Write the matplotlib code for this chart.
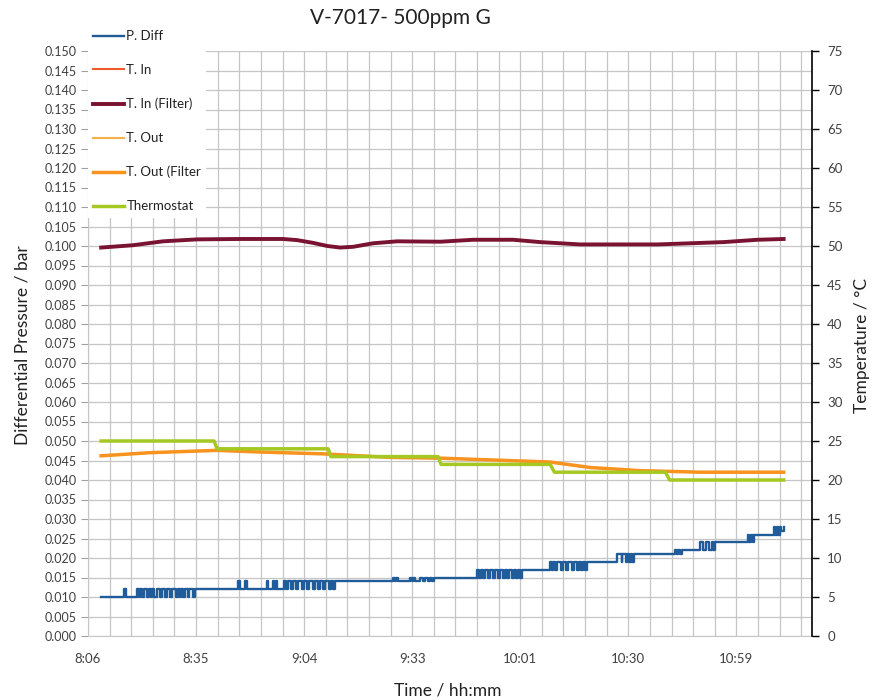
import matplotlib
matplotlib.use("Agg")
import matplotlib.pyplot as plt
import numpy as np

plt.rcParams['font.family'] = ['Lato', 'DejaVu Sans']

# ---- labels -------------------------------------------------------------
title = "V-7017- 500ppm G"
x_label = "Time / hh:mm"
y_left_label = "Differential Pressure / bar"
y_right_label = "Temperature / \u00b0C"
x_tick_labels = ["8:06", "8:35", "9:04", "9:33", "10:01", "10:30", "10:59"]
series_names = ["P. Diff", "T. In", "T. In (Filter)", "T. Out", "T. Out (Filter", "Thermostat"]

# ---- data (time in minutes after 8:00) ---------------------------------
# differential pressure, logged as step changes (bar)
pd_time = [9.7,
           15.8, 16.2, 19.3, 19.7, 20.1, 20.5, 21.1, 21.9, 22.5, 22.9, 23.3, 23.8,
           24.6, 25.4, 25.9, 26.7, 27.3, 28.1, 28.6, 29.7, 30.2, 30.7, 31.0, 31.5,
           32.1, 32.9, 33.1, 34.2, 34.6,
           46.2, 46.6, 48.1, 48.5,
           53.9, 54.3, 55.5, 55.9, 56.3, 56.7, 58.5, 59.0, 59.5, 60.3, 60.9, 61.7,
           62.2, 63.3, 63.8, 64.6, 65.1, 66.2, 66.7, 67.5, 68.1, 68.9, 69.4, 70.5,
           71.0, 71.5, 71.9,
           87.5, 87.9, 88.3, 88.7, 92.1, 92.5, 92.9, 93.3, 94.7, 95.5, 96.1, 96.9,
           97.4, 98.0, 98.5,
           110.0, 110.4, 111.0, 111.4, 112.1, 112.9, 113.4, 114.2, 114.8, 115.6,
           116.1, 116.9, 117.4, 117.9, 118.5, 119.3, 119.8, 120.3, 120.9, 121.4, 121.8,
           129.4, 129.8, 130.2, 130.7, 131.3, 132.3, 132.9, 133.7, 134.2, 135.3,
           135.8, 136.6, 137.1, 137.7, 138.2, 138.7, 139.1,
           147.3, 148.4, 148.6, 149.7, 149.9, 150.5, 150.8, 151.3, 151.7,
           162.7, 163.3, 163.5, 164.1, 164.5,
           169.4, 170.0, 171.0, 171.6, 172.4, 172.9, 173.3,
           182.0, 182.5, 183.0, 183.4, 183.7,
           188.9, 189.4, 189.7, 190.2, 190.5, 191.0, 191.6]
pd_value = [0.010,
            0.012, 0.010, 0.012, 0.010, 0.012, 0.010, 0.012, 0.010, 0.012, 0.010, 0.012, 0.010,
            0.012, 0.010, 0.012, 0.010, 0.012, 0.010, 0.012, 0.010, 0.012, 0.010, 0.012, 0.010,
            0.012, 0.010, 0.012, 0.010, 0.012,
            0.014, 0.012, 0.014, 0.012,
            0.014, 0.012, 0.014, 0.012, 0.014, 0.012, 0.014, 0.012, 0.014, 0.012, 0.014, 0.012,
            0.014, 0.012, 0.014, 0.012, 0.014, 0.012, 0.014, 0.012, 0.014, 0.012, 0.014, 0.012,
            0.014, 0.012, 0.014,
            0.015, 0.014, 0.015, 0.014, 0.015, 0.014, 0.015, 0.014, 0.015, 0.014, 0.015, 0.014,
            0.015, 0.014, 0.015,
            0.017, 0.015, 0.017, 0.015, 0.017, 0.015, 0.017, 0.015, 0.017, 0.015,
            0.017, 0.015, 0.017, 0.015, 0.017, 0.015, 0.017, 0.015, 0.017, 0.015, 0.017,
            0.019, 0.017, 0.019, 0.017, 0.019, 0.017, 0.019, 0.017, 0.019, 0.017,
            0.019, 0.017, 0.019, 0.017, 0.019, 0.017, 0.019,
            0.021, 0.019, 0.021, 0.019, 0.021, 0.019, 0.021, 0.019, 0.021,
            0.022, 0.021, 0.022, 0.021, 0.022,
            0.024, 0.022, 0.024, 0.022, 0.024, 0.022, 0.024,
            0.026, 0.024, 0.026, 0.024, 0.026,
            0.028, 0.026, 0.028, 0.026, 0.028, 0.027, 0.028]

# inlet temperature (degC)
t_in_time = [9.7, 18.2, 26.2, 35.3, 46.7, 58.2, 62.0, 66.2, 70.0, 73.4, 76.9, 82.2,
             88.6, 100.1, 108.9, 119.5, 126.7, 137.4, 157.9, 166.8, 175.6, 184.6, 191.6]
t_in_raw = [49.8, 50.1, 50.6, 50.85, 50.9, 50.9, 50.75, 50.4, 50.0, 49.8, 49.9, 50.35,
            50.6, 50.55, 50.8, 50.8, 50.5, 50.2, 50.2, 50.35, 50.5, 50.8, 50.9]
t_in_filter = [49.8, 50.1, 50.6, 50.85, 50.9, 50.9, 50.75, 50.4, 50.0, 49.8, 49.9, 50.35,
               50.6, 50.55, 50.8, 50.8, 50.5, 50.2, 50.2, 50.35, 50.5, 50.8, 50.9]

# outlet temperature (degC)
t_out_time = [9.7, 22.7, 40.6, 51.3, 68.9, 86.7, 100.1, 117.9, 129.4, 140.1, 153.4,
              169.4, 191.6]
t_out_raw = [23.1, 23.5, 23.8, 23.6, 23.35, 22.9, 22.8, 22.5, 22.3, 21.6, 21.2, 21.0, 21.0]
t_out_filter = [23.1, 23.5, 23.8, 23.6, 23.35, 22.9, 22.8, 22.5, 22.3, 21.6, 21.2, 21.0, 21.0]

# thermostat set point (degC)
thermo_time = [9.7, 39.8, 40.6, 70.2, 70.9, 99.5, 100.3, 129.4, 130.5, 160.1, 161.2, 191.6]
thermo_value = [25, 25, 24, 24, 23, 23, 22, 22, 21, 21, 20, 20]

# ---- figure -------------------------------------------------------------
fig = plt.figure(figsize=(8.8, 7.0), dpi=100)
ax = fig.add_axes([88 / 880, 1 - 636 / 700, (812 - 88) / 880, (636 - 51) / 700])
ax2 = ax.twinx()

colors = {
    "pdiff": "#1F5C99",
    "t_in": "#F05A28",
    "t_in_f": "#7A1331",
    "t_out": "#F4B04A",
    "t_out_f": "#F7931E",
    "thermo": "#A5C823",
}

x_start = 6.2          # 8:06
major = 28.8           # minutes per major unit
x_end = x_start + 6.7 * major

h_pd, = ax.plot(pd_time, pd_value, drawstyle="steps-post", color=colors["pdiff"], lw=1.7,
                label=series_names[0])
h_ti, = ax2.plot(t_in_time, t_in_raw, color=colors["t_in"], lw=1.5, label=series_names[1])
h_tif, = ax2.plot(t_in_time, t_in_filter, color=colors["t_in_f"], lw=2.8, label=series_names[2])
h_to, = ax2.plot(t_out_time, t_out_raw, color=colors["t_out"], lw=1.5, label=series_names[3])
h_tof, = ax2.plot(t_out_time, t_out_filter, color=colors["t_out_f"], lw=2.5, label=series_names[4])
h_th, = ax2.plot(thermo_time, thermo_value, color=colors["thermo"], lw=2.5, label=series_names[5])

# axes ranges and ticks
ax.set_xlim(x_start, x_end)
ax.set_ylim(0, 0.150)
ax2.set_ylim(0, 75)

major_pos = [x_start + i * major for i in range(len(x_tick_labels))]
minor_pos = np.arange(x_start, x_end + 0.01, major / 5)
ax.set_xticks(major_pos)
ax.set_xticklabels(x_tick_labels, fontsize=9.5)
ax.set_xticks(minor_pos, minor=True)

left_ticks = np.arange(0, 0.1501, 0.005)
ax.set_yticks(left_ticks)
ax.set_yticklabels([f"{v:.3f}" for v in left_ticks], fontsize=9)
ax2.set_yticks(np.arange(0, 76, 5))
ax2.set_yticklabels([str(v) for v in range(0, 76, 5)], fontsize=9.5)

grid_c = "#C6C6C6"
ax.grid(True, which="both", axis="x", color=grid_c, lw=0.9)
ax.grid(True, which="major", axis="y", color=grid_c, lw=0.9)
ax.set_axisbelow(True)

ax.tick_params(axis="x", which="both", length=0, pad=12, colors="#404040")
ax.tick_params(axis="y", length=5, color="#A0A0A0", labelcolor="#404040", pad=3)
ax2.tick_params(axis="y", length=5, width=1.0, color="black", labelcolor="#404040", pad=6)

for s in ["top"]:
    ax.spines[s].set_visible(False)
    ax2.spines[s].set_visible(False)
ax.spines["left"].set_color(grid_c)
ax.spines["bottom"].set_color(grid_c)
ax.spines["right"].set_visible(False)
ax2.spines["left"].set_visible(False)
ax2.spines["bottom"].set_visible(False)
ax2.spines["right"].set_color("black")
ax2.spines["right"].set_linewidth(1.2)

# titles
fig.text(400 / 880, 1 - 18 / 700, title, ha="center", va="center", fontsize=15, color="#222222")
fig.text(448 / 880, 1 - 690 / 700, x_label, ha="center", va="center", fontsize=12.5, color="#222222")
fig.text(22 / 880, 1 - 345 / 700, y_left_label, ha="center", va="center", rotation=90,
         fontsize=12.5, color="#222222")
fig.text(862 / 880, 1 - 345 / 700, y_right_label, ha="center", va="center", rotation=90,
         fontsize=12.5, color="#222222")

# legend
leg = ax2.legend(handles=[h_pd, h_ti, h_tif, h_to, h_tof, h_th],
                 loc="upper left", bbox_to_anchor=(88 / 880, 1 - 25 / 700),
                 bbox_transform=fig.transFigure, borderaxespad=0, borderpad=0.4,
                 fontsize=9.5, handlelength=2.3, handletextpad=0.2, labelspacing=1.65,
                 frameon=True, fancybox=False, facecolor="white", edgecolor="none",
                 framealpha=1.0)
for t in leg.get_texts():
    t.set_color("#222222")

fig.savefig("out.png", dpi=100)
